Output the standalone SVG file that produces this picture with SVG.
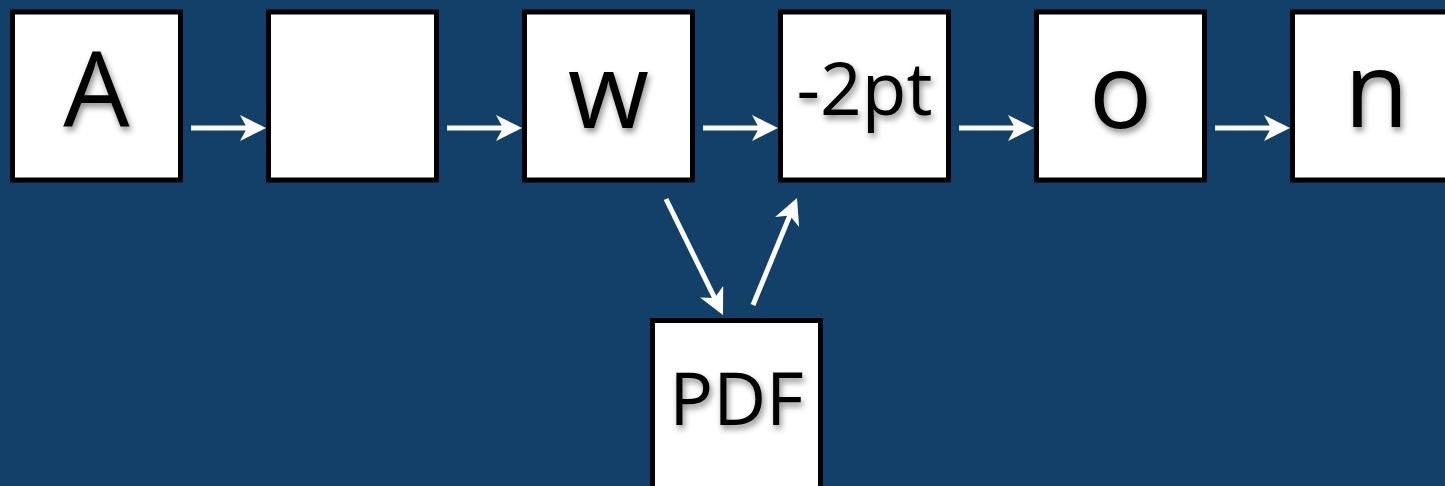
<svg xmlns="http://www.w3.org/2000/svg" width="1445" height="486" viewBox="0 0 1445 486">
<style>
.box{fill:#ffffff;stroke:#000000;stroke-width:5}
.lbl{font-family:"Open Sans","DejaVu Sans",sans-serif;fill:#000000;text-anchor:middle;filter:url(#sh)}
.big{font-size:105px}
.mid{font-size:73px}
.arr{stroke:#ffffff;stroke-width:5;fill:none;marker-end:url(#ah)}
</style>
<defs>
<filter id="sh" x="-20%" y="-20%" width="140%" height="140%">
<feDropShadow dx="2" dy="4" stdDeviation="3" flood-color="#000000" flood-opacity="0.45"/>
</filter>
<marker id="ah" markerUnits="userSpaceOnUse" markerWidth="26" markerHeight="26" refX="21" refY="13" orient="auto" viewBox="0 0 26 26">
<path d="M0,0 L26,13 L0,26 L7,13 z" fill="#ffffff"/>
</marker>
</defs>
<rect width="1445" height="486" fill="#124068"/>
<g id="connectors">
<line class="arr" x1="191" y1="128" x2="261" y2="128"/>
<line class="arr" x1="447" y1="128" x2="517" y2="128"/>
<line class="arr" x1="703" y1="128" x2="773" y2="128"/>
<line class="arr" x1="959" y1="128" x2="1029" y2="128"/>
<line class="arr" x1="1215" y1="128" x2="1285" y2="128"/>
<line class="arr" x1="666" y1="199" x2="720.8" y2="310.5"/>
<line class="arr" x1="753" y1="305" x2="795.1" y2="202.6"/>
</g>
<g id="node-A"><rect class="box" x="12.5" y="12" width="168" height="168"/><text class="lbl big" x="96.5" y="127">A</text></g>
<g id="node-2"><rect class="box" x="268.5" y="12" width="168" height="168"/></g>
<g id="node-w"><rect class="box" x="524.5" y="12" width="168" height="168"/><text class="lbl big" x="608.5" y="128">w</text></g>
<g id="node-2pt"><rect class="box" x="780.5" y="12" width="168" height="168"/><text class="lbl mid" x="864.5" y="115">-2pt</text></g>
<g id="node-o"><rect class="box" x="1036.5" y="12" width="168" height="168"/><text class="lbl big" x="1120.5" y="128">o</text></g>
<g id="node-n"><rect class="box" x="1292.5" y="12" width="168" height="168"/><text class="lbl big" x="1376.5" y="127">n</text></g>
<g id="node-PDF"><rect class="box" x="652.5" y="320.5" width="168" height="180"/><text class="lbl mid" x="736.5" y="425">PDF</text></g>
</svg>
